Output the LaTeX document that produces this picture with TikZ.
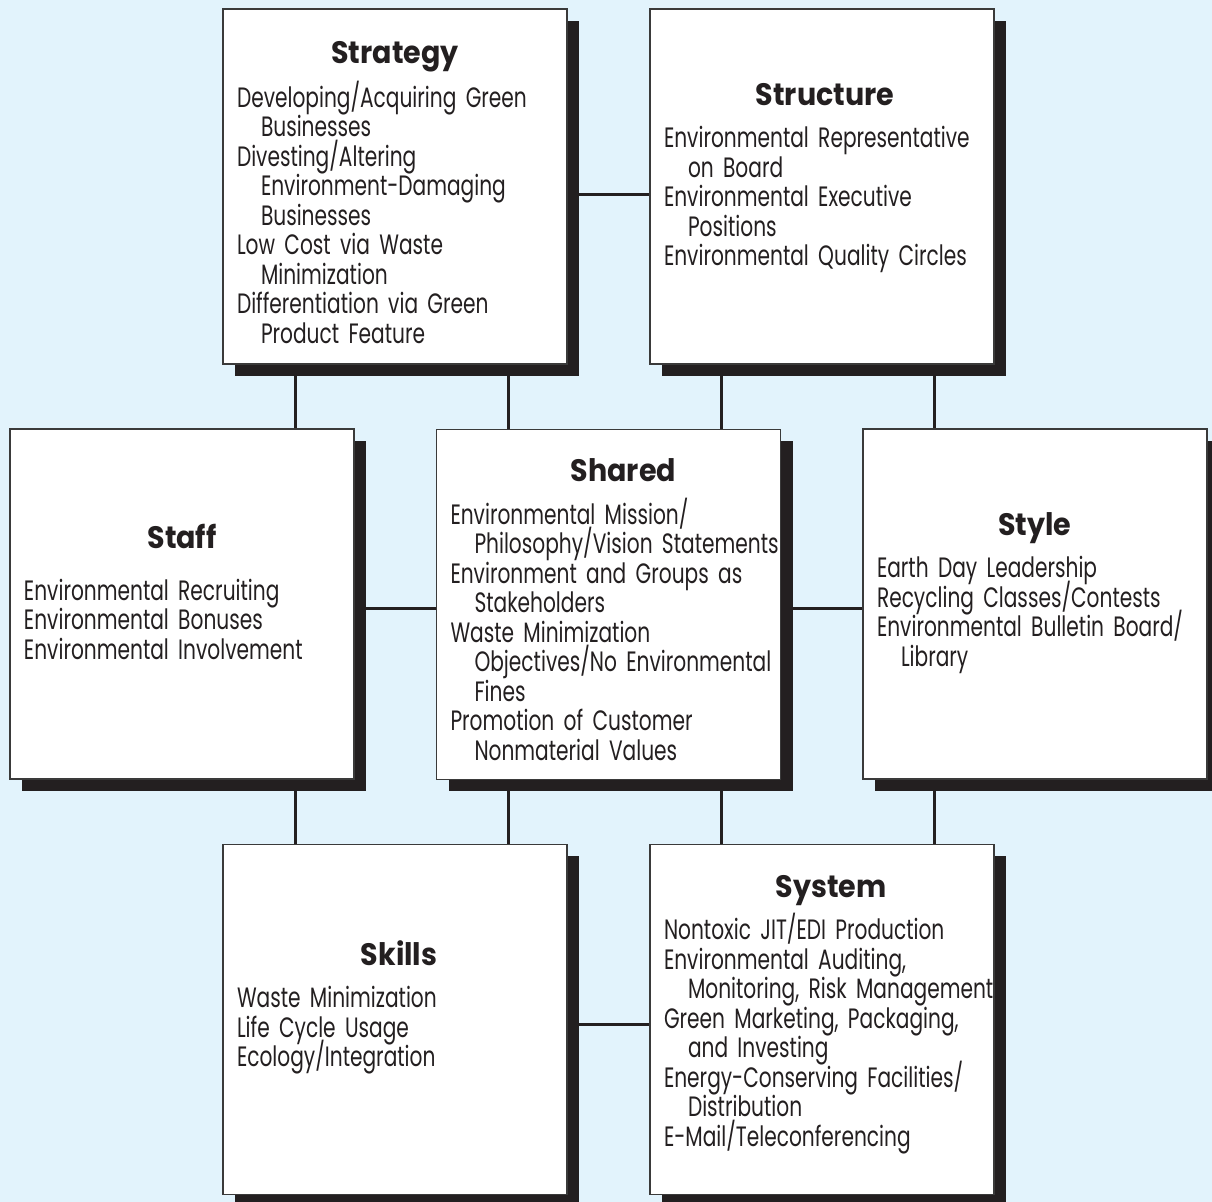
\documentclass[tikz,border=0pt]{standalone}
\usepackage{fontspec}
\setmainfont[FakeStretch=0.72]{Poppins}
\newfontfamily\fuentetitulo[FakeStretch=0.92]{Poppins}
\usetikzlibrary{shadows,backgrounds}
\definecolor{azulFondo}{HTML}{E2F3FC}
\definecolor{negroS}{HTML}{231F20}
\definecolor{grisB}{HTML}{3A3A3A}
\hyphenpenalty=10000
\newcommand{\sangria}{\hspace*{12pt}}
\newcommand{\titulo}[2][0pt]{{\centering\fuentetitulo\fontsize{15.5}{18}\selectfont\bfseries #2\par}%
  \vspace{#1}\lineskiplimit=-20pt\leftskip=7pt\rightskip=-30pt plus 1fil\relax}
\newcommand{\cierre}[1]{\par\vspace{#1}}

\tikzset{
  caja/.style={draw=grisB, line width=0.6pt, fill=white, text=negroS,
    minimum width=172pt, minimum height=175pt, text width=172pt,
    inner xsep=0pt, align=left, font=\fontsize{14}{14.75}\selectfont,
    drop shadow={shadow xshift=6pt, shadow yshift=-6pt, fill=negroS, opacity=1}},
  enlace/.style={negroS, line width=1.5pt}
}

\begin{document}
\begin{tikzpicture}[x=0.5pt,y=-0.5pt]
  \useasboundingbox (0,0) rectangle (1212,1202);

  \node[caja, minimum height=177.5pt] (strategy) at (395,186.5) {\titulo[7pt]{Strategy}
    Developing/Acquiring Green\\ \sangria Businesses\\
    Divesting/Altering\\ \sangria Environment-Damaging\\ \sangria Businesses\\
    Low Cost via Waste\\ \sangria Minimization\\
    Differentiation via Green\\ \sangria Product Feature\cierre{-6pt}};
  \node[caja, minimum height=177.5pt] (structure) at (822,186.5) {\titulo[6.5pt]{\hspace*{3pt}Structure}
    Environmental Representative\\ \sangria on Board\\
    Environmental Executive\\ \sangria Positions\\
    Environmental Quality Circles\cierre{8.5pt}};
  \node[caja] (staff) at (182,604) {\titulo[11pt]{Staff}
    Environmental Recruiting\\
    Environmental Bonuses\\
    Environmental Involvement\cierre{12pt}};
  \node[caja] (shared) at (608.5,604.5) {\titulo[6.5pt]{\hspace*{15pt}Shared}
    Environmental Mission/\\ \sangria Philosophy/Vision Statements\\
    Environment and Groups as\\ \sangria Stakeholders\\
    Waste Minimization\\ \sangria Objectives/No Environmental\\ \sangria Fines\\
    Promotion of Customer\\ \sangria Nonmaterial Values\cierre{-5pt}};
  \node[caja] (style) at (1035,604) {\titulo[6.5pt]{Style}
    Earth Day Leadership\\
    Recycling Classes/Contests\\
    Environmental Bulletin Board/\\ \sangria Library\cierre{11pt}};
  \node[caja] (skills) at (395,1019.5) {\titulo[6.5pt]{\hspace*{4pt}Skills}
    Waste Minimization\\
    Life Cycle Usage\\
    Ecology/Integration\cierre{12pt}};
  \node[caja] (system) at (822,1019.5) {\titulo[6.5pt]{\hspace*{9pt}System}
    Nontoxic JIT/EDI Production\\
    Environmental Auditing,\\ \sangria Monitoring, Risk Management\\
    Green Marketing, Packaging,\\ \sangria and Investing\\
    Energy-Conserving Facilities/\\ \sangria Distribution\\
    E-Mail/Teleconferencing\cierre{5pt}};

  % puntos de paso de los enlaces
  \coordinate (v1) at (295,0);
  \coordinate (v2) at (508,0);
  \coordinate (v3) at (721,0);
  \coordinate (v4) at (934,0);
  \coordinate (h1) at (0,195);
  \coordinate (h2) at (0,609);
  \coordinate (h3) at (0,1025);

  \begin{pgfonlayer}{background}
    \fill[azulFondo] (0,0) rectangle (1212,1202);
    \draw[enlace] (strategy.east |- h1) -- (structure.west |- h1);
    \draw[enlace] (staff.east |- h2) -- (shared.west |- h2);
    \draw[enlace] (shared.east |- h2) -- (style.west |- h2);
    \draw[enlace] (skills.east |- h3) -- (system.west |- h3);
    \draw[enlace] (strategy.south -| v1) -- (staff.north -| v1);
    \draw[enlace] (strategy.south -| v2) -- (shared.north -| v2);
    \draw[enlace] (structure.south -| v3) -- (shared.north -| v3);
    \draw[enlace] (structure.south -| v4) -- (style.north -| v4);
    \draw[enlace] (staff.south -| v1) -- (skills.north -| v1);
    \draw[enlace] (shared.south -| v2) -- (skills.north -| v2);
    \draw[enlace] (shared.south -| v3) -- (system.north -| v3);
    \draw[enlace] (style.south -| v4) -- (system.north -| v4);
  \end{pgfonlayer}
\end{tikzpicture}
\end{document}
